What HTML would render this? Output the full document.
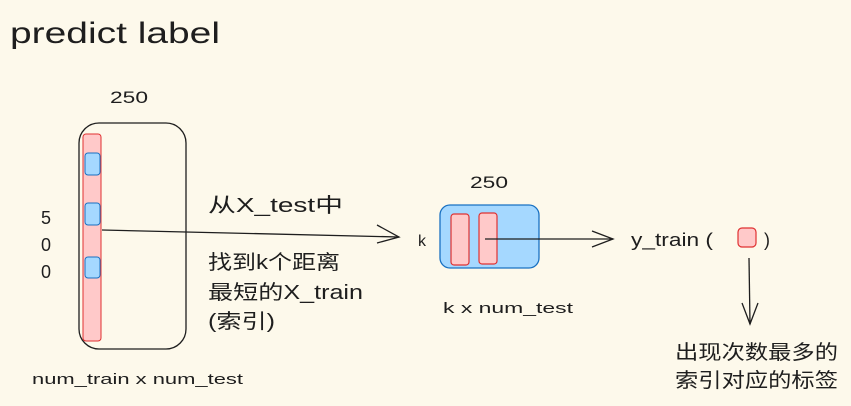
<!DOCTYPE html>
<html><head><meta charset="utf-8"><style>
html,body{margin:0;padding:0;background:#fdf9eb;}
svg{display:block}
text{font-family:"Liberation Sans","Noto Sans CJK SC",sans-serif;fill:#1e1e1e}
</style></head><body>
<svg width="851" height="406" viewBox="0 0 851 406" xmlns="http://www.w3.org/2000/svg">
<rect width="851" height="406" fill="#fdf9eb"/>
<text x="10" y="43" font-size="30" textLength="210" lengthAdjust="spacingAndGlyphs">predict label</text>
<text x="110" y="103" font-size="17" textLength="38" lengthAdjust="spacingAndGlyphs">250</text>
<rect x="79" y="123" width="107" height="226" rx="20" fill="none" stroke="#1e1e1e" stroke-width="1.3"/>
<rect x="83" y="134" width="18" height="207" rx="3" fill="#ffc9c9" stroke="#e03131" stroke-width="1"/>
<rect x="85" y="153" width="15" height="22" rx="3" fill="#a5d8ff" stroke="#1971c2" stroke-width="1"/>
<rect x="85" y="203" width="15" height="22" rx="3" fill="#a5d8ff" stroke="#1971c2" stroke-width="1"/>
<rect x="85" y="257" width="15" height="21" rx="3" fill="#a5d8ff" stroke="#1971c2" stroke-width="1"/>
<text x="41" y="224" font-size="18">5</text>
<text x="41" y="251" font-size="18">0</text>
<text x="41" y="278" font-size="18">0</text>
<path d="M102 230 L399 237" stroke="#1e1e1e" stroke-width="1.3" fill="none"/>
<path d="M377 225 L399 237 L377 243" stroke="#1e1e1e" stroke-width="1.3" fill="none"/>
<text x="208" y="212" font-size="20" textLength="135" lengthAdjust="spacingAndGlyphs">从X_test中</text>
<text x="208" y="269" font-size="20" textLength="132" lengthAdjust="spacingAndGlyphs">找到k个距离</text>
<text x="208" y="299" font-size="20" textLength="155" lengthAdjust="spacingAndGlyphs">最短的X_train</text>
<text x="208" y="328" font-size="20" textLength="67" lengthAdjust="spacingAndGlyphs">(索引)</text>
<text x="32" y="384" font-size="15" textLength="211" lengthAdjust="spacingAndGlyphs">num_train x num_test</text>
<text x="470" y="188" font-size="17" textLength="38" lengthAdjust="spacingAndGlyphs">250</text>
<text x="418" y="246" font-size="16">k</text>
<rect x="440" y="205" width="99" height="63" rx="10" fill="#a5d8ff" stroke="#1971c2" stroke-width="1.3"/>
<rect x="451" y="214" width="18" height="51" rx="3" fill="#ffc9c9" stroke="#e03131" stroke-width="1.2"/>
<rect x="479" y="213" width="18" height="51" rx="3" fill="#ffc9c9" stroke="#e03131" stroke-width="1.2"/>
<path d="M485 239 L613 239" stroke="#1e1e1e" stroke-width="1.3" fill="none"/>
<path d="M592 231 L613 239 L592 247" stroke="#1e1e1e" stroke-width="1.3" fill="none"/>
<text x="631" y="246" font-size="18" textLength="82" lengthAdjust="spacingAndGlyphs">y_train (</text>
<rect x="738" y="228" width="18" height="19" rx="4" fill="#ffc9c9" stroke="#e03131" stroke-width="1.2"/>
<text x="764" y="246" font-size="18">)</text>
<path d="M749 258 L750 324" stroke="#1e1e1e" stroke-width="1.3" fill="none"/>
<path d="M742 303 L750 324 L758 303" stroke="#1e1e1e" stroke-width="1.3" fill="none"/>
<text x="675" y="359" font-size="20" textLength="163" lengthAdjust="spacingAndGlyphs">出现次数最多的</text>
<text x="675" y="387" font-size="20" textLength="163" lengthAdjust="spacingAndGlyphs">索引对应的标签</text>
<text x="443" y="313" font-size="15" textLength="130" lengthAdjust="spacingAndGlyphs">k x num_test</text>
</svg>
</body></html>
